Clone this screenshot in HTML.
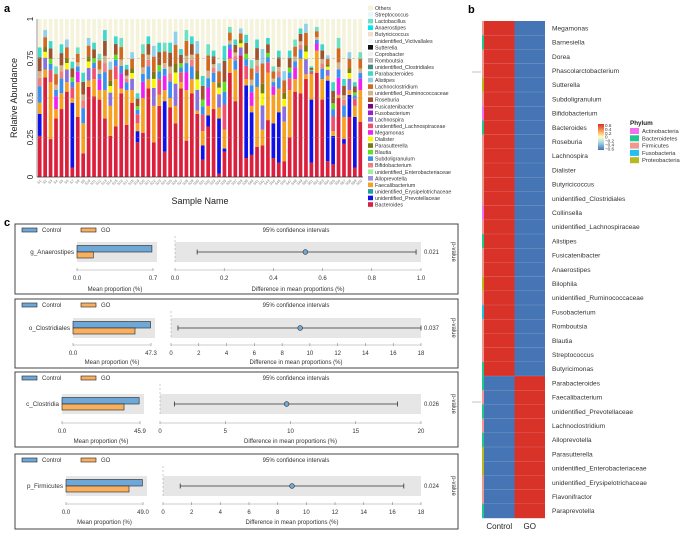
<!DOCTYPE html>
<html><head><meta charset="utf-8"><style>
html,body{margin:0;padding:0;background:#fff;}
svg{display:block;font-family:"Liberation Sans",sans-serif;}
</style></head><body>
<svg id="fig" width="685" height="533" viewBox="0 0 685 533">
<text x="4" y="12" font-size="11" font-weight="bold">a</text>
<text x="468" y="13" font-size="11" font-weight="bold">b</text>
<text x="4" y="226" font-size="11" font-weight="bold">c</text>
<g id="pa"></g>
<g id="pb"></g>
<g id="pc"></g>
</svg>
<script>
// ---- Panel a data ----
const bacteroides=[.26,.63,.24,.37,.43,.54,.06,.38,.15,.57,.51,.49,.37,.26,.32,.53,.33,.47,.22,.28,.56,.22,.45,.16,.44,.34,.56,.23,.53,.40,.11,.32,.43,.02,.16,.66,.48,.77,.12,.14,.19,.20,.36,.12,.09,.10,.25,.54,.53,.62,.09,.66,.49,.10,.08,.50,.21,.38,.06,.35];
const prevotellaceae=[.14,0,0,0,0,0,.41,0,0,0,0,0,0,0,0,0,0,0,.07,0,0,0,0,.32,0,0,0,0,0,0,.09,.07,0,.35,.02,0,0,0,.46,.27,0,0,0,.22,.32,0,0,0,0,0,.40,0,0,.51,.18,0,.03,.14,.32,0];
const faecalibacterium=[.07,.05,.36,.06,.10,.06,.03,.22,.19,.04,.11,.06,.18,.19,.30,.03,.22,.08,.05,.22,.06,.23,.07,.07,.06,.11,.04,.32,.09,.02,.09,.06,.17,.07,.12,.09,.20,0,.04,.04,.38,.10,.30,.18,.15,.25,.30,.08,.22,.03,.16,.14,.13,.03,.03,.02,.14,.03,.07,.20];
const totals=[.82,.93,.86,.70,.84,.87,.73,.82,.66,.88,.85,.78,.93,.73,.89,.88,.71,.79,.53,.84,.89,.83,.85,.85,.85,.92,.81,.93,.89,.86,.64,.84,.80,.72,.83,.95,.87,.94,.90,.74,.87,.81,.88,.70,.80,.67,.80,.87,.94,.97,.70,.95,.84,.77,.60,.88,.62,.79,.60,.79];
const yTicks=["0","0.25","0.5","0.75","1"];
const legendNames=["Others","Streptococcus","Lactobacillus","Anaerostipes","Butyricicoccus","unidentified_Victivallales","Sutterella","Coprobacter","Romboutsia","unidentified_Clostridiales","Parabacteroides","Alistipes","Lachnoclostridium","unidentified_Ruminococcaceae","Roseburia","Fusicatenibacter","Fusobacterium","Lachnospira","unidentified_Lachnospiraceae","Megamonas","Dialister","Parasutterella","Blautia","Subdoligranulum","Bifidobacterium","unidentified_Enterobacteriaceae","Alloprevotella","Faecalibacterium","unidentified_Erysipelotrichaceae","unidentified_Prevotellaceae","Bacteroides"];
const legendColors=["#f5f3dc","#e8f8fa","#6fe0c0","#00e5f0","#f5dcc8","#eef6f8","#111111","#f0f0f0","#b8b8b8","#4a8a7a","#40d8c8","#90d0e8","#d2691e","#d2b48c","#a0522d","#800080","#9a20c8","#8870e0","#f05070","#f020f0","#f8f800","#7a7a10","#60e020","#3a90f0","#f08080","#a0f0a0","#a090e0","#f8a020","#20a0a0","#1010e8","#dc1f3c"];
const midColors=[["#3a90f0","#f08080","#d2b48c","#a0522d","#40d8c8"],["#8870e0","#f8f800","#7a7a10","#d2691e","#90d0e8"],["#f05070","#3a90f0","#60e020","#a0522d","#40d8c8"],["#f020f0","#3a90f0","#d2b48c","#d2691e","#6fe0c0"]];
const NS="http://www.w3.org/2000/svg";
function mk(parent,tag,attrs,txt){const e=document.createElementNS(NS,tag);for(const k in attrs)e.setAttribute(k,attrs[k]);if(txt!==undefined)e.textContent=txt;parent.appendChild(e);return e;}
(function(){
 const g=document.getElementById('pa');
 const x0=37,x1=363,yTop=19,yBot=177;
 const ys=v=>yBot-v*(yBot-yTop);
 const n=bacteroides.length, step=(x1-x0)/n, bw=step*0.68;
 const xs=i=>x0+step*i+(step-bw)/2;
 for(let i=0;i<n;i++){
  const bx=xs(i);
  const r=mk(g,'rect',{x:bx,y:ys(1),width:bw,height:ys(totals[i])-ys(1),fill:'#f5f3dc'});
  
  let acc=0;
  const segs=[[bacteroides[i],'#dc1f3c','bacteroides'],[prevotellaceae[i],'#1010e8','prevotellaceae'],[faecalibacterium[i],'#f8a020','faecalibacterium']];
  const mid=Math.max(0,totals[i]-bacteroides[i]-prevotellaceae[i]-faecalibacterium[i]);
  const fr=[.3,.15,.12,.25,.18], mc=midColors[i%4];
  fr.forEach((f,k)=>segs.push([mid*f,mc[k],'other-genus']));
  segs.forEach(s=>{ if(s[0]<=0)return;
   const e=mk(g,'rect',{x:bx,y:ys(acc+s[0]),width:bw,height:ys(acc)-ys(acc+s[0]),fill:s[1]});
   
   acc+=s[0];});
  const t=mk(g,'text',{x:0,y:0,'font-size':3.6,fill:'#777',transform:`translate(${bx+bw/2+2},${yBot+4}) rotate(-45)`,'text-anchor':'end'},'S'+(i+1));
  
 }
 yTicks.forEach((lb,k)=>{const v=k*0.25,y=ys(v);
  if(k>0&&k<4){const l=mk(g,'line',{x1:x0,x2:x1,y1:y,y2:y,stroke:'#999','stroke-width':.6,'stroke-dasharray':'3,2',opacity:.8});}
  const t=mk(g,'text',{x:0,y:0,'font-size':8,fill:'#222','text-anchor':'middle',transform:`translate(${x0-4},${y}) rotate(-90)`},lb);
  });
 const ax=mk(g,'line',{x1:x0,x2:x0,y1:yTop,y2:yBot,stroke:'#555','stroke-width':.6});
 const ax2=mk(g,'line',{x1:x0,x2:x1,y1:yBot,y2:yBot,stroke:'#333','stroke-width':.8});
 const yt=mk(g,'text',{x:0,y:0,'font-size':9,fill:'#222','text-anchor':'middle',transform:`translate(17,${(yTop+yBot)/2}) rotate(-90)`},'Relative Abundance');
 
 const xt=mk(g,'text',{x:(x0+x1)/2,y:204,'font-size':9,fill:'#222','text-anchor':'middle'},'Sample Name');
 
 legendNames.forEach((nm,k)=>{const y=8+k*6.55;
  const s=mk(g,'rect',{x:368,y:y-2.3,width:5,height:4.6,fill:legendColors[k]});
  const t=mk(g,'text',{x:375,y:y+2,'font-size':5.3,fill:'#333'},nm);});
})();
// ---- Panel b data ----
const genera=["Megamonas","Barnesiella","Dorea","Phascolarctobacterium","Sutterella","Subdoligranulum","Bifidobacterium","Bacteroides","Roseburia","Lachnospira","Dialister","Butyricicoccus","unidentified_Clostridiales","Collinsella","unidentified_Lachnospiraceae","Alistipes","Fusicatenibacter","Anaerostipes","Bilophila","unidentified_Ruminococcaceae","Fusobacterium","Romboutsia","Blautia","Streptococcus","Butyricimonas","Parabacteroides","Faecalibacterium","unidentified_Prevotellaceae","Lachnoclostridium","Alloprevotella","Parasutterella","unidentified_Enterobacteriaceae","unidentified_Erysipelotrichaceae","Flavonifractor","Paraprevotella"];
const phylum=["F","B","F","F","P","F","A","B","F","F","F","F","F","A","F","B","F","F","P","F","U","F","F","F","B","B","F","B","F","B","P","P","F","F","B"];
const controlZ=[.7,.7,.7,.7,.7,.7,.7,.7,.7,.7,.7,.7,.7,.7,.7,.7,.7,.7,.7,.7,.7,.7,.7,.7,.7,-.7,-.7,-.7,-.7,-.7,-.7,-.7,-.7,-.7,-.7];
const goZ=controlZ.map(v=>-v);
const phylumNames=["Actinobacteria","Bacteroidetes","Firmicutes","Fusobacteria","Proteobacteria"];
const phylumColors={A:"#f070f0",B:"#20c890",F:"#f09890",U:"#20c0f0",P:"#b8b820"};
const cbTicks=["0.6","0.4","0.2","0","\u22120.2","\u22120.4","\u22120.6"];
(function(){
 const g=document.getElementById('pb');
 const x0=484,cw=30.5,yt=21,rh=(518-21)/genera.length;
 const col=v=>v>0?'#d93228':'#4575b4';
 genera.forEach((nm,i)=>{const y=yt+i*rh;
  const p=mk(g,'rect',{x:482,y:y,width:2.2,height:rh+.2,fill:phylumColors[phylum[i]]});
  const a=mk(g,'rect',{x:x0,y:y,width:cw,height:rh+.2,fill:col(controlZ[i])});
  const b=mk(g,'rect',{x:x0+cw,y:y,width:cw,height:rh+.2,fill:col(goZ[i])});
  if(i>0){const l=mk(g,'line',{x1:x0,x2:x0+2*cw,y1:y,y2:y,stroke:'#fff','stroke-opacity':.25,'stroke-width':.5});}
  const t=mk(g,'text',{x:552,y:y+rh/2+2.3,'font-size':6.6,fill:'#333'},nm);});
 const d1=mk(g,'line',{x1:472,x2:481,y1:72,y2:72,stroke:'#888','stroke-width':.5});
 const d2=mk(g,'line',{x1:472,x2:481,y1:402,y2:402,stroke:'#888','stroke-width':.5});
 const c1=mk(g,'text',{x:x0+cw/2,y:529,'font-size':8,fill:'#222','text-anchor':'middle'},'Control');
 const c2=mk(g,'text',{x:x0+cw*1.5,y:529,'font-size':8,fill:'#222','text-anchor':'middle'},'GO');
 const defs=mk(g,'defs',{});const lg=mk(defs,'linearGradient',{id:'cb',x1:0,y1:0,x2:0,y2:1});
 [['0','#d73027'],['.3','#fdae61'],['.5','#ffffbf'],['.7','#abd9e9'],['1','#4575b4']].forEach(s=>mk(lg,'stop',{offset:s[0],'stop-color':s[1]}));
 const cb=mk(g,'rect',{x:598,y:124,width:6,height:26,fill:'url(#cb)'});
 cbTicks.forEach((tk,k)=>{const t=mk(g,'text',{x:605,y:127+k*3.9,'font-size':4.6,fill:'#333'},tk);});
 const ph=mk(g,'text',{x:630,y:125,'font-size':6.3,'font-weight':'bold',fill:'#222'},'Phylum');
 const keys=['A','B','F','U','P'];
 phylumNames.forEach((nm,k)=>{const y=128+k*7.3;
  const s=mk(g,'rect',{x:630,y:y,width:9,height:6,fill:phylumColors[keys[k]]});
  const t=mk(g,'text',{x:642,y:y+5,'font-size':5.8,fill:'#333'},nm);});
})();
// ---- Panel c data ----
const features=["g_Anaerostipes","o_Clostridiales","c_Clostridia","p_Firmicutes"];
const controlMean=[0.69,47.0,45.4,48.6];
const goMean=[0.15,37.6,36.5,40.1];
const propMax=["0.7","47.3","45.9","49.0"];
const diffMean=[0.53,9.3,9.7,9.0];
const ciLow=[0.09,0.5,1.1,1.2];
const ciHigh=[0.98,18.0,18.2,16.8];
const pValues=["0.021","0.037","0.026","0.024"];
const ciTicks=[["0.0","0.2","0.4","0.6","0.8","1.0"],["0","2","4","6","8","10","12","14","16","18"],["0","5","10","15","20"],["0","2","4","6","8","10","12","14","16","18"]];
(function(){
 const g=document.getElementById('pc');
 const boxes=[{t:224,b:294,row:252,lab:278,tit:289,p0:77,p1:153,c0:175},{t:299,b:368,row:328,lab:353,tit:362,p0:73,p1:151,c0:171},{t:372,b:447,row:404,lab:431,tit:441,p0:62,p1:140,c0:160},{t:454,b:529,row:486,lab:512,tit:522,p0:66,p1:143,c0:163}];
 const c1=421;
 boxes.forEach((B,i)=>{
  const bx=mk(g,'rect',{x:15,y:B.t,width:443,height:B.b-B.t,fill:'#fff',stroke:'#444','stroke-width':1});
  const ly=B.t+6;
  const r1=mk(g,'rect',{x:22,y:ly-2,width:15,height:4,fill:'#6fa8d6',stroke:'#222','stroke-width':.6});
  const t1=mk(g,'text',{x:42,y:ly+2.2,'font-size':6,fill:'#333'},'Control');
  const r2=mk(g,'rect',{x:81,y:ly-2,width:15,height:4,fill:'#f8b060',stroke:'#222','stroke-width':.6});
  const t2=mk(g,'text',{x:101,y:ly+2.2,'font-size':6,fill:'#333'},'GO');
  const ti=mk(g,'text',{x:296,y:ly+2.2,'font-size':6,fill:'#333','text-anchor':'middle'},'95% confidence intervals');
  const pmax=parseFloat(propMax[i]);const px=v=>B.p0+v/pmax*(B.p1-B.p0);
  const bg=mk(g,'rect',{x:B.p0,y:B.row-10,width:B.p1-B.p0+4,height:20,fill:'#e6e6e6'});
  const cb=mk(g,'rect',{x:B.p0,y:B.row-6.5,width:px(controlMean[i])-B.p0,height:6.5,fill:'#6fa8d6',stroke:'#222','stroke-width':.6});
  const gb=mk(g,'rect',{x:B.p0,y:B.row,width:px(goMean[i])-B.p0,height:6,fill:'#f8b060',stroke:'#222','stroke-width':.6});
  const fl=mk(g,'text',{x:B.p0-3,y:B.row+2.2,'font-size':6.3,fill:'#333','text-anchor':'end'},features[i]);
  const pa=mk(g,'line',{x1:B.p0,x2:B.p1,y1:B.lab-8,y2:B.lab-8,stroke:'#999','stroke-width':.5});
  [['0.0',B.p0],[propMax[i],B.p1]].forEach(a=>{const tk=mk(g,'line',{x1:a[1],x2:a[1],y1:B.lab-10,y2:B.lab-7,stroke:'#777','stroke-width':.5});
   const t=mk(g,'text',{x:a[1],y:B.lab+2,'font-size':6,fill:'#333','text-anchor':'middle'},a[0]);});
  const pt=mk(g,'text',{x:(B.p0+B.p1)/2,y:B.tit+2,'font-size':6,fill:'#333','text-anchor':'middle'},'Mean proportion (%)');
  const tks=ciTicks[i];const cmax=parseFloat(tks[tks.length-1]);const cx=v=>B.c0+v/cmax*(c1-B.c0);
  const cbg=mk(g,'rect',{x:B.c0,y:B.row-10,width:c1-B.c0,height:20,fill:'#e6e6e6'});
  const dl=mk(g,'line',{x1:B.c0,x2:B.c0,y1:B.t+12,y2:B.row+10,stroke:'#999','stroke-width':.5,'stroke-dasharray':'2,2'});
  const el=mk(g,'line',{x1:cx(ciLow[i]),x2:cx(ciHigh[i]),y1:B.row,y2:B.row,stroke:'#333','stroke-width':.8});
  [ciLow[i],ciHigh[i]].forEach(v=>{const c=mk(g,'line',{x1:cx(v),x2:cx(v),y1:B.row-2.5,y2:B.row+2.5,stroke:'#333','stroke-width':.8});});
  const dot=mk(g,'circle',{cx:cx(diffMean[i]),cy:B.row,r:2.4,fill:'#6fa8d6',stroke:'#333','stroke-width':.6});
  const ca=mk(g,'line',{x1:B.c0,x2:c1,y1:B.lab-8,y2:B.lab-8,stroke:'#999','stroke-width':.5});
  tks.forEach(tk=>{const x=cx(parseFloat(tk));const m=mk(g,'line',{x1:x,x2:x,y1:B.lab-10,y2:B.lab-7,stroke:'#777','stroke-width':.5});
   const t=mk(g,'text',{x:x,y:B.lab+2,'font-size':6,fill:'#333','text-anchor':'middle'},tk);});
  const ct=mk(g,'text',{x:(B.c0+c1)/2,y:B.tit+2,'font-size':6,fill:'#333','text-anchor':'middle'},'Difference in mean proportions (%)');
  const pv=mk(g,'text',{x:424,y:B.row+2.2,'font-size':6,fill:'#333'},pValues[i]);
  const pl=mk(g,'text',{x:0,y:0,'font-size':6,fill:'#333','text-anchor':'middle',transform:`translate(452,${B.row}) rotate(90)`},'p-value');
 });
})();
</script>
</body></html>
